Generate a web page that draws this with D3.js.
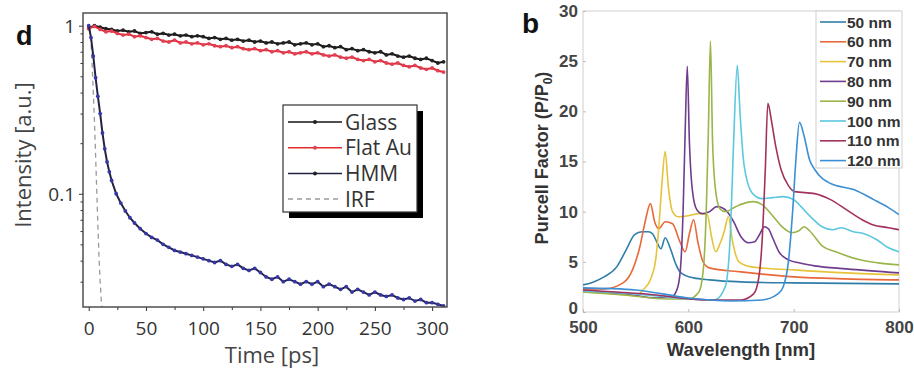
<!DOCTYPE html>
<html><head><meta charset="utf-8">
<script src="https://cdn.jsdelivr.net/npm/d3@7"></script>
<style>body{margin:0;background:#fff}svg{display:block}</style>
</head><body><svg id="c" width="914" height="375"></svg>
<script>
// ---------- Panel d : time-resolved intensity ----------
const timeFlat = [0,5,10,15,20,25,30,35,40,45,50,55,60,65,70,75,80,85,90,95,100,105,110,115,120,125,130,135,140,145,150,155,160,165,170,175,180,185,190,195,200,205,210,215,220,225,230,235,240,245,250,255,260,265,270,275,280,285,290,295,300,305,310];
const glass = [0.97,1.0,0.98,0.96,0.95,0.93,0.94,0.92,0.93,0.90,0.91,0.92,0.89,0.90,0.88,0.89,0.87,0.88,0.86,0.87,0.86,0.84,0.85,0.83,0.84,0.82,0.83,0.81,0.82,0.80,0.81,0.79,0.80,0.78,0.79,0.80,0.77,0.78,0.79,0.77,0.78,0.75,0.76,0.74,0.75,0.72,0.73,0.71,0.72,0.70,0.69,0.70,0.67,0.68,0.66,0.65,0.66,0.64,0.63,0.64,0.62,0.60,0.61];
const flatAu = [0.96,0.99,0.95,0.92,0.93,0.90,0.88,0.89,0.86,0.87,0.85,0.83,0.84,0.81,0.80,0.82,0.79,0.80,0.78,0.79,0.77,0.78,0.76,0.75,0.76,0.74,0.75,0.73,0.72,0.73,0.71,0.72,0.70,0.71,0.69,0.70,0.68,0.69,0.70,0.68,0.69,0.67,0.66,0.67,0.65,0.64,0.65,0.63,0.62,0.63,0.61,0.62,0.60,0.59,0.60,0.58,0.57,0.58,0.56,0.55,0.56,0.54,0.53];
const timeHMM = [0,2,4,6,8,10,12,14,16,18,20,24,28,32,36,40,45,50,55,60,65,70,75,80,85,90,95,100,105,110,115,120,125,130,135,140,145,150,155,160,165,170,175,180,185,190,195,200,205,210,215,220,225,230,235,240,245,250,255,260,265,270,275,280,285,290,295,300,305,310];
const hmm = [1.0,0.85,0.66,0.49,0.38,0.30,0.23,0.185,0.155,0.135,0.12,0.10,0.088,0.079,0.072,0.067,0.062,0.058,0.055,0.053,0.050,0.048,0.046,0.045,0.044,0.043,0.042,0.041,0.040,0.039,0.040,0.038,0.037,0.038,0.036,0.035,0.036,0.034,0.032,0.031,0.032,0.030,0.031,0.030,0.029,0.030,0.029,0.030,0.028,0.029,0.028,0.027,0.028,0.026,0.027,0.026,0.025,0.026,0.025,0.0245,0.025,0.024,0.0235,0.024,0.023,0.0235,0.0225,0.0225,0.022,0.0215];
const timeIRF = [0,1,2,3,4,5,6,7,8,9,10,11,12];
const irf = [0.98,0.95,0.8,0.58,0.4,0.27,0.17,0.105,0.065,0.042,0.03,0.023,0.02];
const timeTicks = [0,50,100,150,200,250,300];
const timeMinor = [25,75,125,175,225,275];
const intTicks = [1,0.1];
const intMinor = [0.03,0.04,0.05,0.06,0.07,0.08,0.09,0.2,0.3,0.4,0.5,0.6,0.7,0.8,0.9];
const legendD = ["Glass","Flat Au","HMM","IRF"];

// ---------- Panel b : Purcell factor ----------
const thickness = ["50 nm","60 nm","70 nm","80 nm","90 nm","100 nm","110 nm","120 nm"];
const wl50 = [500,510,520,532,541,549,556,562,566,570,574,578,583,588,592,598,605,620,650,700,750,800];
const pf50 = [2.7,3.0,3.5,4.5,6.2,7.7,8.0,8.0,7.8,7.0,6.3,7.4,6.3,4.8,4.0,3.6,3.4,3.2,3.0,2.9,2.85,2.8];
const wl60 = [500,520,538,547,554,559,564,568,572,578,585,592,597,601,605,609,614,620,650,700,750,800];
const pf60 = [2.3,2.3,2.9,4.2,6.5,9.0,10.8,9.0,8.3,9.0,8.8,7.0,6.0,7.8,9.2,7.0,5.0,4.4,4.0,3.5,3.3,3.2];
const wl70 = [500,530,550,557,565,569,572,575,578,581,585,590,600,610,618,622,626,630,634,638,642,648,660,700,750,800];
const pf70 = [2.0,1.8,1.6,2.2,3.5,5.2,8.5,12.9,16.0,12.5,10.0,9.5,9.6,9.8,9.7,7.5,6.0,6.8,8.0,9.5,7.0,5.0,4.5,4.2,3.9,3.7];
const wl80 = [500,540,570,585,590,593,595,597,599,601,604,608,613,620,627,632,637,643,650,657,663,668,672,676,680,686,695,705,720,750,800];
const pf80 = [2.1,1.8,1.4,1.6,2.5,5,10,18,24.5,17,12,10.2,9.8,10.0,10.5,10.4,10.0,9.0,7.5,6.9,7.0,7.8,8.5,8.3,7.4,6.0,5.2,4.9,4.6,4.3,3.9];
const wl90 = [500,540,580,600,610,614,617,619,621,623,626,630,635,645,655,662,670,680,690,698,705,710,715,727,740,763,780,800];
const pf90 = [2.0,1.7,1.3,1.3,2.0,4,10,18,27,17,12,10.3,10.0,10.5,10.9,11.0,10.7,9.6,8.4,7.9,8.1,8.5,8.1,6.6,6.0,5.2,4.9,4.7];
const wl100 = [500,550,600,625,635,640,643,646.5,649,652,656,662,670,680,690,700,707,715,727,737,745,757,767,779,790,800];
const pf100 = [2.1,1.8,1.3,1.2,2.5,8,17,24.6,20,15.5,13,11.7,11.3,11.4,11.5,11.2,10.5,9.6,8.5,8.2,8.4,8.0,7.8,7.2,6.4,6.0];
const wl110 = [500,560,620,650,662,667,670,673,675.5,679,683,688,695,701,720,735,750,765,775,790,800];
const pf110 = [2.2,1.8,1.2,1.2,1.8,3.5,7,14,20.8,19,16.5,14.2,12.6,12.0,11.8,11.2,10.2,9.2,8.7,8.4,8.2];
const wl120 = [500,550,600,640,670,685,690,695,699,702,705.5,710,715,720,735,757,776,790,800];
const pf120 = [2.4,2.2,1.4,1.1,1.2,1.8,2.5,5,10,15,18.9,17.5,15.2,14.2,12.8,12.2,11.2,10.4,9.7];
const wlTicks = [500,600,700,800];
const pfTicks = [0,5,10,15,20,25,30];
const colors = ["#2f7ea8","#e8693a","#e6c33a","#6f3c8e","#9ab54a","#5cc7df","#a3315f","#3b8fd4"];

const svg = d3.select("#c");

// ===== Panel d =====
const fD = "'Open Sans', sans-serif";
const xL = d3.scaleLinear().domain([-5, 313]).range([83, 447]);
const yL = d3.scaleLog().domain([0.0212, 1.19]).range([307, 13]);
const gD = svg.append("g");
gD.append("clipPath").attr("id","clipD").append("rect")
  .attr("x",83).attr("y",13).attr("width",364).attr("height",294);

function styleAxis(g, font, size, color, weight){
  g.selectAll("path").remove();
  g.selectAll("line").attr("stroke", color);
  g.selectAll("text").attr("font-family", font).attr("font-size", size)
    .attr("fill", color).attr("font-weight", weight || "normal");
}
const axXD = gD.append("g").attr("transform","translate(0,307)")
  .call(d3.axisBottom(xL).tickValues(timeTicks).tickSize(4).tickPadding(11).tickFormat(d3.format("d")));
styleAxis(axXD, fD, 19, "#333");
const axXDm = gD.append("g").attr("transform","translate(0,307)")
  .call(d3.axisBottom(xL).tickValues(timeMinor).tickSize(3).tickFormat(""));
styleAxis(axXDm, fD, 19, "#333");
const axYD = gD.append("g").attr("transform","translate(83,0)")
  .call(d3.axisLeft(yL).tickValues(intTicks).tickSize(4).tickPadding(4).tickFormat(d => d === 1 ? "1" : "0.1"));
styleAxis(axYD, fD, 19, "#333");
axYD.selectAll("text").attr("dy","0.36em");
const axYDm = gD.append("g").attr("transform","translate(83,0)")
  .call(d3.axisLeft(yL).tickValues(intMinor).tickSize(2.5).tickFormat(""));
styleAxis(axYDm, fD, 19, "#333");

const dataD = gD.append("g").attr("clip-path","url(#clipD)");
const lineT = (ts, vs) => d3.line().x((d,i)=>xL(ts[i])).y(d=>yL(d))(vs);
dataD.append("path").attr("d", lineT(timeIRF, irf)).attr("fill","none")
  .attr("stroke","#9a9a9a").attr("stroke-width",1.3).attr("stroke-dasharray","5,4");
function series(ts, vs, lc, mc){
  dataD.append("path").attr("d", lineT(ts, vs)).attr("fill","none").attr("stroke",lc).attr("stroke-width",2);
  dataD.append("g").selectAll("circle").data(vs).join("circle")
    .attr("cx",(d,i)=>xL(ts[i])).attr("cy",d=>yL(d)).attr("r",1.9).attr("fill",mc);
}
series(timeFlat, glass, "#151515", "#222");
series(timeFlat, flatAu, "#e22b2b", "#e0405a");
series(timeHMM, hmm, "#222244", "#3636a8");

gD.append("rect").attr("x",83).attr("y",13).attr("width",364).attr("height",294)
  .attr("fill","none").attr("stroke","#444").attr("stroke-width",1.4);

// legend d
const lg = gD.append("g");
lg.append("rect").attr("x",289).attr("y",111).attr("width",134).attr("height",107).attr("fill","#000");
lg.append("rect").attr("x",283).attr("y",105).attr("width",134).attr("height",107)
  .attr("fill","#fff").attr("stroke","#333").attr("stroke-width",1.2);
const legStyles = [
  {c:"#151515", m:"#222", dash:null},
  {c:"#e22b2b", m:"#e0405a", dash:null},
  {c:"#222244", m:"#222", dash:null},
  {c:"#9a9a9a", m:null, dash:"5,4"}
];
legendD.forEach((name,i)=>{
  const y = 122 + i*25.7;
  const s = legStyles[i];
  lg.append("line").attr("x1",288).attr("x2",342).attr("y1",y).attr("y2",y)
    .attr("stroke",s.c).attr("stroke-width",1.5).attr("stroke-dasharray",s.dash);
  if (s.m) lg.append("circle").attr("cx",315).attr("cy",y).attr("r",2).attr("fill",s.m);
  lg.append("text").attr("x",345).attr("y",y).attr("dy","0.36em").text(name)
    .attr("font-family",fD).attr("font-size",21).attr("fill","#333");
});

gD.append("text").attr("transform","translate(31,155) rotate(-90)").attr("text-anchor","middle")
  .text("Intensity [a.u.]").attr("font-family",fD).attr("font-size",22).attr("fill","#444");
gD.append("text").attr("x",272).attr("y",363).attr("text-anchor","middle")
  .text("Time [ps]").attr("font-family",fD).attr("font-size",22).attr("fill","#444");
gD.append("text").attr("x",16).attr("y",45).text("d")
  .attr("font-family","'Liberation Sans', Arial, sans-serif").attr("font-weight","bold").attr("font-size",27).attr("fill","#111");

// ===== Panel b =====
const fB = "'Liberation Sans', Arial, sans-serif";
const xR = d3.scaleLinear().domain([500, 800]).range([583, 899]);
const yR = d3.scaleLinear().domain([0, 30]).range([312, 11]);
const gB = svg.append("g");
gB.append("clipPath").attr("id","clipB").append("rect")
  .attr("x",583).attr("y",11).attr("width",316).attr("height",301);
gB.append("rect").attr("x",583).attr("y",11).attr("width",316).attr("height",301)
  .attr("fill","none").attr("stroke","#d0d0d0").attr("stroke-width",1);
const axXB = gB.append("g").attr("transform","translate(0,312)")
  .call(d3.axisBottom(xR).tickValues(wlTicks).tickSizeInner(-3).tickSizeOuter(0).tickPadding(11));
styleAxis(axXB, fB, 17, "#444", "bold");
axXB.selectAll("line").attr("stroke","#bbb");
axXB.selectAll("text").attr("dy","0.6em");
const axYB = gB.append("g").attr("transform","translate(583,0)")
  .call(d3.axisLeft(yR).tickValues(pfTicks).tickSizeInner(-3).tickSizeOuter(0).tickPadding(5));
styleAxis(axYB, fB, 17, "#444", "bold");
axYB.selectAll("line").attr("stroke","#bbb");
axYB.selectAll("text").filter(d => d === 0).attr("dy","0.1em");

const wls = [wl50,wl60,wl70,wl80,wl90,wl100,wl110,wl120];
const pfs = [pf50,pf60,pf70,pf80,pf90,pf100,pf110,pf120];
const dataB = gB.append("g").attr("clip-path","url(#clipB)");
pfs.forEach((vs,k)=>{
  const ws = wls[k];
  const ln = d3.line().curve(d3.curveMonotoneX).x((d,i)=>xR(ws[i])).y(d=>yR(d));
  dataB.append("path").attr("d", ln(vs)).attr("fill","none")
    .attr("stroke",colors[k]).attr("stroke-width",1.6);
});

// legend b
const lb = gB.append("g");
lb.append("rect").attr("x",816).attr("y",11).attr("width",86).attr("height",157)
  .attr("fill","#fff").attr("stroke","#d0d0d0");
thickness.forEach((name,i)=>{
  const y = 22 + i*19.8;
  lb.append("line").attr("x1",820).attr("x2",846).attr("y1",y).attr("y2",y)
    .attr("stroke",colors[i]).attr("stroke-width",1.6);
  lb.append("text").attr("x",847).attr("y",y).attr("dy","0.36em").text(name)
    .attr("font-family",fB).attr("font-weight","bold").attr("font-size",15.5).attr("fill","#333");
});

const yl = gB.append("text").attr("transform","translate(548,158) rotate(-90)").attr("text-anchor","middle")
  .attr("font-family",fB).attr("font-weight","bold").attr("font-size",18).attr("fill","#333");
yl.append("tspan").text("Purcell Factor (P/P");
yl.append("tspan").text("0").attr("font-size",12).attr("dy","4");
yl.append("tspan").text(")").attr("dy","-4");
gB.append("text").attr("x",741).attr("y",356).attr("text-anchor","middle")
  .text("Wavelength [nm]").attr("font-family",fB).attr("font-weight","bold").attr("font-size",18.5).attr("fill","#333");
gB.append("text").attr("x",522).attr("y",33).text("b")
  .attr("font-family",fB).attr("font-weight","bold").attr("font-size",28).attr("fill","#111");
</script></body></html>
